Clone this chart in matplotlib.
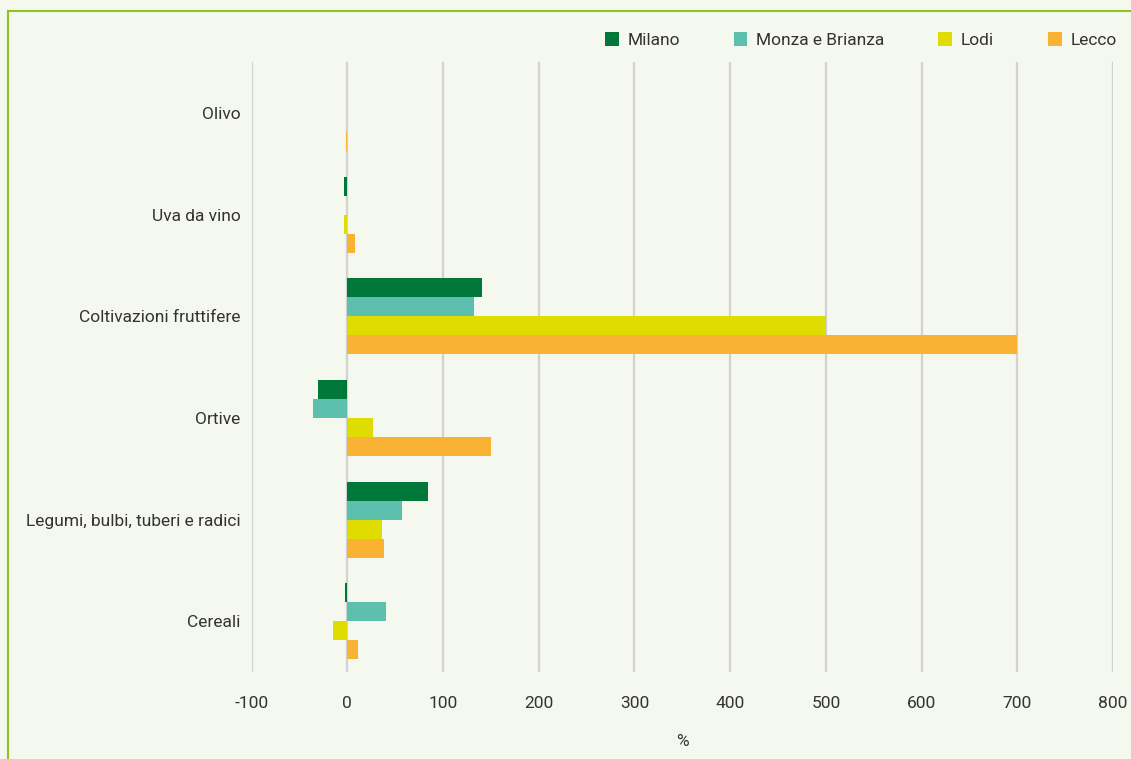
import matplotlib.pyplot as plt
import matplotlib.lines as mlines
import numpy as np

categories = ["Olivo", "Uva da vino", "Coltivazioni fruttifere", "Ortive",
              "Legumi, bulbi, tuberi e radici", "Cereali"]
series = ["Milano", "Monza e Brianza", "Lodi", "Lecco"]
milano = [0, -3, 141, -31, 84, -2]
monza = [0, 0, 132, -36, 57, 40]
lodi = [0, -3, 500, 27, 36, -15]
lecco = [-1.5, 8, 700, 150, 38, 11]
ticks = [-100, 0, 100, 200, 300, 400, 500, 600, 700, 800]

colors = ["#00783a", "#5dbfad", "#dfdc00", "#f9b233"]
bg = "#f5f8ee"

plt.rcParams['font.family'] = ['Roboto', 'DejaVu Sans']
plt.rcParams['axes.unicode_minus'] = False

fig = plt.figure(figsize=(11.31, 7.59), dpi=100, facecolor=bg)
ax = fig.add_axes([0.2225, 0.1146, 0.7615, 0.8036])
ax.set_facecolor(bg)

# categories drawn top to bottom
ypos = np.arange(len(categories))[::-1]
h = 0.187
for i, (name, vals) in enumerate(zip(series, [milano, monza, lodi, lecco])):
    offset = (1.5 - i) * h
    ax.barh(ypos + offset, vals, height=h, color=colors[i], label=name, zorder=3)

ax.set_xlim(-100, 800)
ax.set_ylim(-0.5, len(categories) - 0.5)
ax.set_xticks(ticks)
ax.set_yticks(ypos)
ax.set_yticklabels(categories)
ax.grid(axis='x', color='#d2d2d2', linewidth=1.6, zorder=1)
ax.set_axisbelow(True)
for s in ax.spines.values():
    s.set_visible(False)
ax.tick_params(length=0, labelsize=12.5, colors='#333333')
ax.tick_params(axis='y', pad=8)
ax.tick_params(axis='x', pad=17)
ax.set_xlabel('%', fontsize=12.5, color='#333333', labelpad=17)

fig.legend(loc='center right', bbox_to_anchor=(1.001, 0.947), ncol=4, frameon=False,
           fontsize=12.5, handlelength=0.8, handleheight=0.8, columnspacing=3.1,
           handletextpad=0.5, labelcolor='#333333')

# green frame on top and left
fig.add_artist(mlines.Line2D([8 / 1131, 1], [1 - 11 / 759, 1 - 11 / 759],
                             color='#8dc21f', linewidth=1.5, transform=fig.transFigure))
fig.add_artist(mlines.Line2D([8 / 1131, 8 / 1131], [0, 1 - 11 / 759],
                             color='#8dc21f', linewidth=1.5, transform=fig.transFigure))

fig.savefig('out.png', dpi=100, facecolor=bg)
